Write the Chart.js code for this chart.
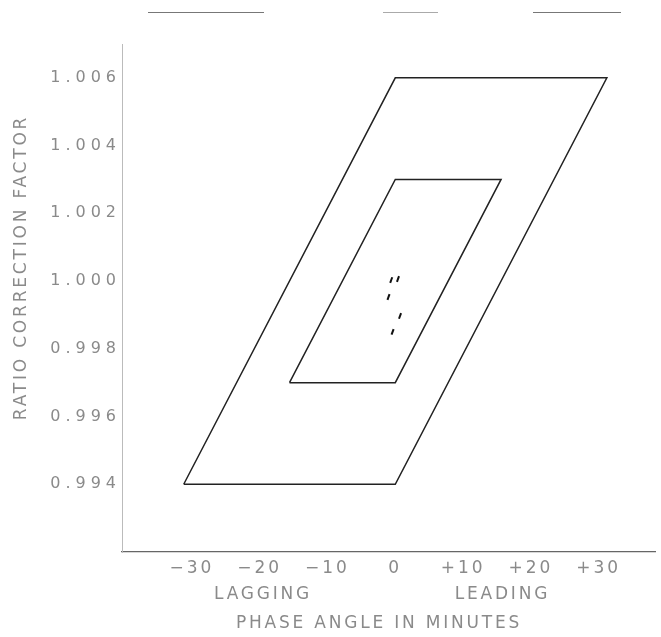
<!DOCTYPE html>
<html>
<head>
<meta charset="utf-8">
<script src="https://cdn.jsdelivr.net/npm/chart.js@4"></script>
<style>
  body { margin: 0; background: #fff; }
  #wrap { position: relative; width: 661px; height: 637px; }
  .scan { position: absolute; top: 12px; height: 1px; background: #777; }
</style>
</head>
<body>
<div id="wrap">
  <div class="scan" style="left:148px;width:116px"></div>
  <div class="scan" style="left:383px;width:55px;background:#aaa"></div>
  <div class="scan" style="left:533px;width:88px"></div>
  <canvas id="grafico" width="661" height="637"></canvas>
</div>
<script>
// Límites de exactitud (paralelogramos) y puntos medidos
const exteriorX = [-31.2, 0, 31.2, 0, -31.2];
const exteriorY = [0.994, 0.994, 1.006, 1.006, 0.994];
const interiorX = [-15.6, 0, 15.6, 0, -15.6];
const interiorY = [0.997, 0.997, 1.003, 1.003, 0.997];
const medidosX = [-0.6, 0.4, -1.0, 0.7, -0.4];
const medidosY = [1.00003, 1.00006, 0.99953, 0.99897, 0.9985];

const ticksX = [-30, -20, -10, 0, 10, 20, 30];
const ticksY = [0.994, 0.996, 0.998, 1.000, 1.002, 1.004, 1.006];

const gris = '#8a8a8a';
const fuente = 'DejaVu Sans';

function puntos(xs, ys) {
    return xs.map((x, i) => ({ x: x, y: ys[i] }));
}

// Textos del eje (LAGGING / LEADING / títulos) dibujados sobre la escala
const textos = {
    id: 'textos',
    beforeDraw(chart) {
        chart.ctx.letterSpacing = '3px';
        const ys = chart.scales.y;
        if (!ys._espaciado) {
            // etiquetas del eje Y más espaciadas, como en el original
            const dibujar = ys.drawLabels.bind(ys);
            ys.drawLabels = (area) => {
                chart.ctx.letterSpacing = '5px';
                dibujar(area);
                chart.ctx.letterSpacing = '3px';
            };
            ys._espaciado = true;
        }
    },
    afterDraw(chart) {
        const ctx = chart.ctx;
        const x = chart.scales.x;
        const y = chart.scales.y;
        ctx.save();
        ctx.letterSpacing = '2.8px';
        ctx.fillStyle = gris;
        ctx.font = '17px "' + fuente + '"';
        ctx.textAlign = 'center';
        ctx.textBaseline = 'middle';
        ctx.fillText('LAGGING', x.getPixelForValue(-19.5), 595);
        ctx.fillText('LEADING', x.getPixelForValue(15.8), 595);
        ctx.fillText('PHASE ANGLE IN MINUTES', x.getPixelForValue(-2.4), 624);
        ctx.translate(22, y.getPixelForValue(1.0004));
        ctx.rotate(-Math.PI / 2);
        ctx.fillText('RATIO CORRECTION FACTOR', 0, 0);
        ctx.restore();
    }
};

const ctx = document.getElementById('grafico').getContext('2d');
new Chart(ctx, {
    type: 'scatter',
    data: {
        datasets: [
            {
                label: 'exterior',
                data: puntos(exteriorX, exteriorY),
                showLine: true,
                borderColor: '#222',
                borderWidth: 1.5,
                pointRadius: 0,
                fill: false
            },
            {
                label: 'interior',
                data: puntos(interiorX, interiorY),
                showLine: true,
                borderColor: '#222',
                borderWidth: 1.5,
                pointRadius: 0,
                fill: false
            },
            {
                label: 'medidos',
                data: puntos(medidosX, medidosY),
                showLine: false,
                pointStyle: 'line',
                rotation: -70,
                pointRadius: 3,
                borderColor: '#111',
                borderWidth: 2
            }
        ]
    },
    options: {
        responsive: false,
        animation: false,
        events: [],
        layout: { padding: { top: 44, right: 0, bottom: 0, left: 0 } },
        plugins: {
            legend: { display: false },
            tooltip: { enabled: false }
        },
        scales: {
            x: {
                type: 'linear',
                min: -40.3,
                max: 38.3,
                afterFit(scale) { scale.height = 85; },
                afterBuildTicks(scale) { scale.ticks = ticksX.map(v => ({ value: v })); },
                grid: { display: false, drawTicks: false },
                border: { color: '#666', width: 1.2 },
                ticks: {
                    color: gris,
                    padding: 6,
                    maxRotation: 0,
                    autoSkip: false,
                    font: { family: fuente, size: 17 },
                    callback: v => v > 0 ? '+' + v : (v < 0 ? '\u2212' + Math.abs(v) : '0')
                }
            },
            y: {
                type: 'linear',
                min: 0.992,
                max: 1.007,
                afterFit(scale) { scale.width = 122; },
                afterBuildTicks(scale) { scale.ticks = ticksY.map(v => ({ value: v })); },
                grid: { display: false, drawTicks: false },
                border: { color: '#bbb', width: 1 },
                ticks: {
                    color: gris,
                    padding: 1,
                    autoSkip: false,
                    font: { family: fuente, size: 16 },
                    callback: v => v.toFixed(3)
                }
            }
        }
    },
    plugins: [textos]
});
</script>
</body>
</html>
